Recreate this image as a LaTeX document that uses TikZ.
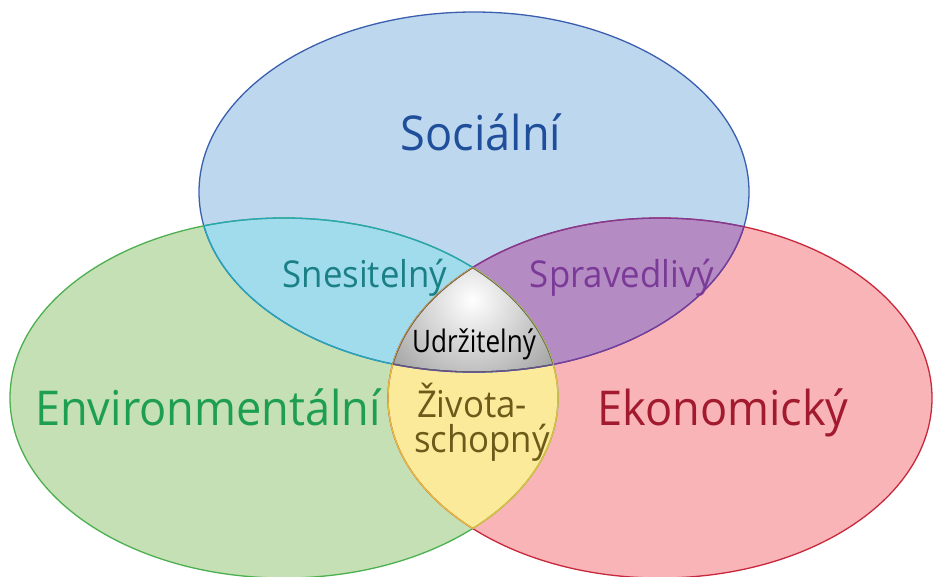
\documentclass[tikz,border=0pt]{standalone}
\usepackage{fontspec}
\setmainfont{Open Sans}[FakeStretch=0.94]
\newfontfamily\narrowfont{Open Sans}[FakeStretch=0.84]

\definecolor{socfill}{HTML}{BDD7EE}
\definecolor{socline}{HTML}{3A5FAF}
\definecolor{soctext}{HTML}{1F4E9A}
\definecolor{envfill}{HTML}{C5E0B4}
\definecolor{envline}{HTML}{4CAF50}
\definecolor{envtext}{HTML}{1E9E50}
\definecolor{ecofill}{HTML}{F9B4B7}
\definecolor{ecoline}{HTML}{C8283C}
\definecolor{ecotext}{HTML}{A11A2E}
\definecolor{bearfill}{HTML}{A0DCEB}
\definecolor{bearline}{HTML}{26A6B8}
\definecolor{beartext}{HTML}{1A7F86}
\definecolor{equifill}{HTML}{B48BC3}
\definecolor{equiline}{HTML}{7D3C98}
\definecolor{equitext}{HTML}{7B3A98}
\definecolor{viabfill}{HTML}{FBEA9A}
\definecolor{viabline}{HTML}{E0BE40}
\definecolor{viabtext}{HTML}{6B5A1A}
\definecolor{sustline}{HTML}{606060}

\newcommand{\socpath}{(474,192) ellipse [x radius=275, y radius=180]}
\newcommand{\envpath}{(284,398) ellipse [x radius=274, y radius=180]}
\newcommand{\ecopath}{(660,398) ellipse [x radius=272, y radius=180]}

\tikzset{
    bigtext/.style={inner sep=0pt, font=\fontsize{48}{52}\selectfont},
    midtext/.style={inner sep=0pt, font=\fontsize{37}{37}\selectfont},
    smalltext/.style={inner sep=0pt, font=\narrowfont\fontsize{31}{32}\selectfont},
    rim/.style={line width=1.3pt},
}

\begin{document}
\begin{tikzpicture}[x=1pt,y=-1pt]

    \useasboundingbox [fill=white] (0,0) rectangle (934,576);

    % the three sets
    \fill [socfill] \socpath;
    \fill [envfill] \envpath;
    \fill [ecofill] \ecopath;

    % pairwise overlaps
    \begin{scope}
        \clip \socpath;
        \fill [bearfill] \envpath;
    \end{scope}
    \begin{scope}
        \clip \socpath;
        \fill [equifill] \ecopath;
    \end{scope}
    \begin{scope}
        \clip \envpath;
        \fill [viabfill] \ecopath;
    \end{scope}

    % middle
    \begin{scope}
        \clip \socpath;
        \clip \envpath;
        \clip \ecopath;
        \shade [inner color=white, outer color=gray!80]
            (472,300) circle [radius=115];
    \end{scope}

    % outlines
    \draw [rim, socline] \socpath;
    \draw [rim, envline] \envpath;
    \draw [rim, ecoline] \ecopath;

    \begin{scope}
        \clip \socpath;
        \draw [rim, bearline] \envpath;
        \draw [rim, equiline] \ecopath;
    \end{scope}
    \begin{scope}
        \clip \envpath;
        \draw [rim, bearline] \socpath;
        \draw [rim, viabline] \ecopath;
    \end{scope}
    \begin{scope}
        \clip \ecopath;
        \draw [rim, equiline] \socpath;
        \draw [rim, viabline] \envpath;
    \end{scope}
    \begin{scope}
        \clip \socpath;
        \clip \envpath;
        \clip \ecopath;
        \draw [rim, sustline] \socpath;
        \draw [rim, sustline] \envpath;
        \draw [rim, sustline] \ecopath;
    \end{scope}

    % labels
    \node [bigtext, soctext, anchor=base] (soc) at (481,150) {Sociální};
    \node [bigtext, envtext, anchor=base west] (env) at (35,425) {Environmentální};
    \node [bigtext, ecotext, anchor=base west] (eco) at (597,425) {Ekonomický};
    \node [midtext, beartext, anchor=base] (bear) at (365,287) {Snesitelný};
    \node [midtext, equitext, anchor=base] (equi) at (622,287) {Spravedlivý};
    \node [smalltext, black, anchor=base] (sust) at (474,352) {Udržitelný};
    \node [midtext, viabtext, anchor=base] (viab) at (472,417) {Života-};
    \node [midtext, viabtext, anchor=base] (viabb) at (482,452) {schopný};

\end{tikzpicture}
\end{document}
